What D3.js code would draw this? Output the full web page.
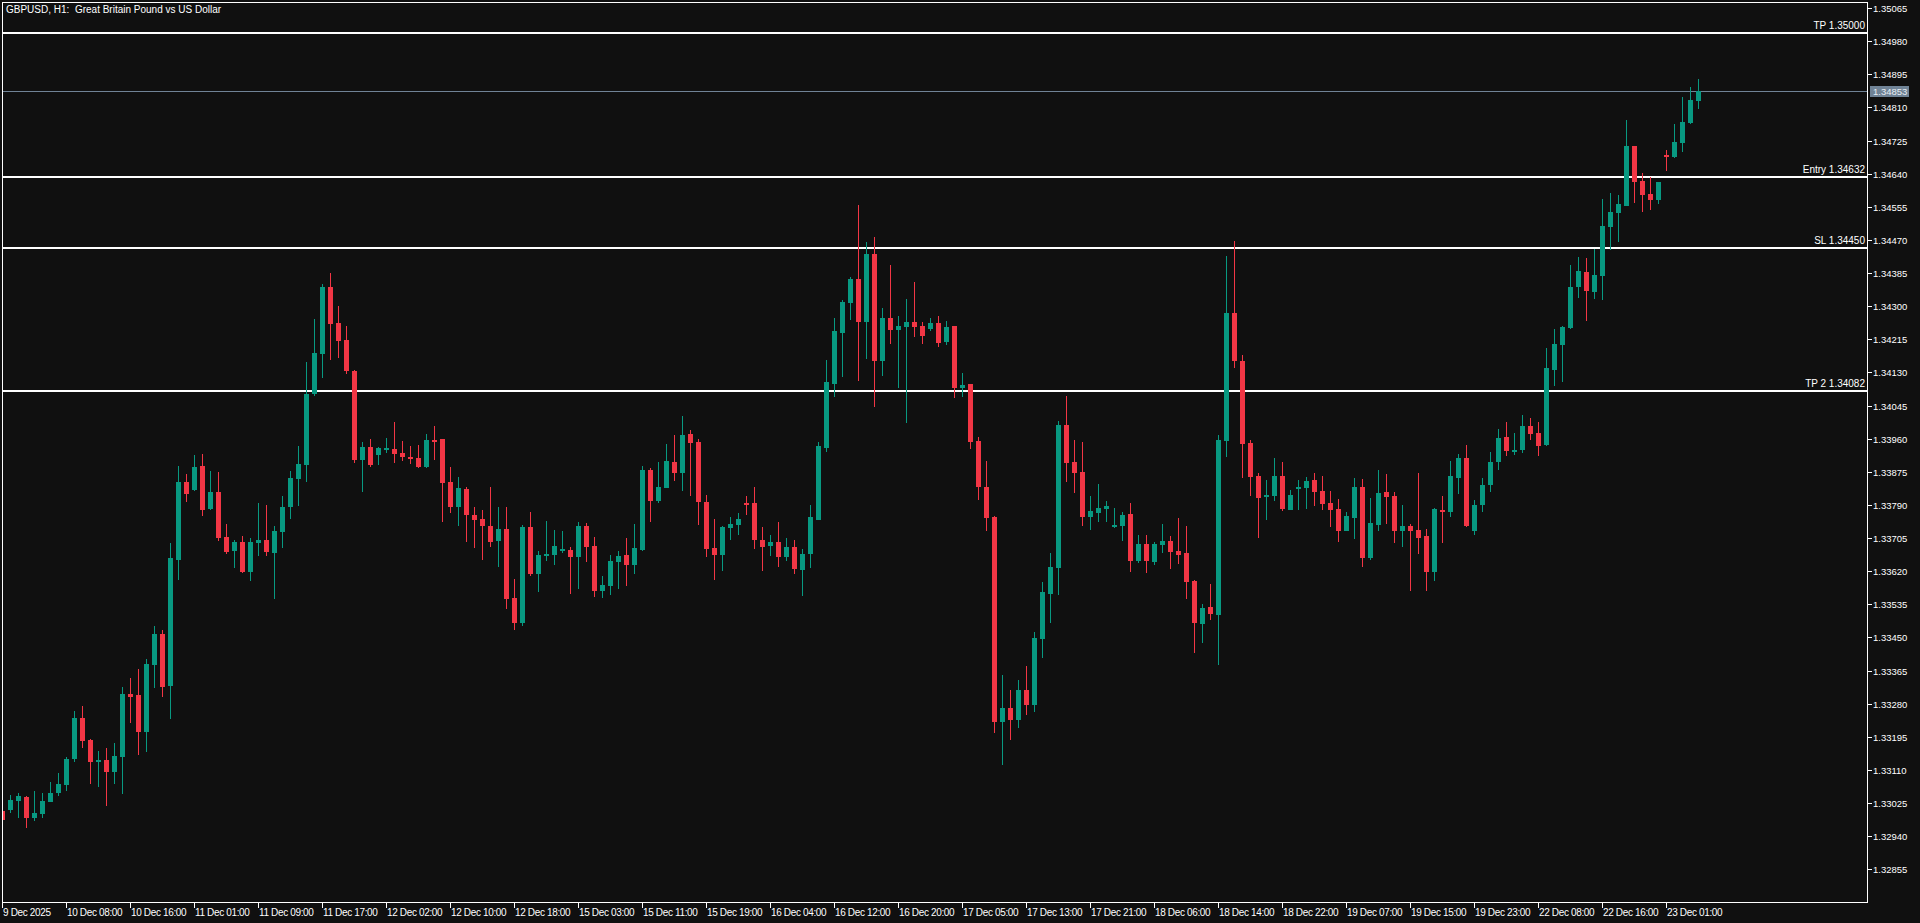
<!DOCTYPE html>
<html><head><meta charset="utf-8">
<script src="https://cdn.jsdelivr.net/npm/d3@7"></script>
<style>
html,body{margin:0;padding:0;background:#101010;overflow:hidden}
svg{display:block}
text{font-family:"Liberation Sans",Arial,sans-serif;fill:#ffffff}
</style></head>
<body>
<svg id="chart" width="1920" height="923"></svg>
<script>
const title = "GBPUSD, H1:  Great Britain Pound vs US Dollar";

const opens = [1.33005,1.33007,1.33030,1.33041,1.32987,1.32997,1.33028,1.33051,1.33071,1.33138,
1.33243,1.33187,1.33130,1.33135,1.33105,1.33143,1.33305,1.33302,1.33207,1.33379,
1.33459,1.33325,1.33649,1.33849,1.33828,1.33890,1.33780,1.33823,1.33708,1.33672,
1.33695,1.33618,1.33692,1.33700,1.33667,1.33720,1.33785,1.33856,1.33892,1.34075,
1.34177,1.34349,1.34257,1.34213,1.34134,1.33905,1.33939,1.33918,1.33933,1.33933,
1.33923,1.33913,1.33910,1.33887,1.33957,1.33959,1.33849,1.33785,1.33831,1.33764,
1.33754,1.33736,1.33697,1.33728,1.33551,1.33487,1.33733,1.33613,1.33659,1.33661,
1.33674,1.33674,1.33656,1.33736,1.33685,1.33569,1.33582,1.33644,1.33661,1.33636,
1.33674,1.33880,1.33800,1.33833,1.33900,1.33872,1.33972,1.33951,1.33797,1.33679,
1.33661,1.33731,1.33738,1.33796,1.33794,1.33701,1.33684,1.33696,1.33656,1.33681,
1.33622,1.33663,1.33752,1.33937,1.34101,1.34232,1.34309,1.34370,1.34260,1.34434,
1.34160,1.34270,1.34239,1.34247,1.34260,1.34250,1.34242,1.34257,1.34209,1.34250,
1.34089,1.34101,1.33954,1.33836,1.33759,1.33233,1.33269,1.33238,1.33315,1.33277,
1.33446,1.33561,1.33628,1.33995,1.33900,1.33874,1.33759,1.33769,1.33780,1.33733,
1.33736,1.33767,1.33646,1.33690,1.33644,1.33687,1.33697,1.33672,1.33667,1.33595,
1.33484,1.33528,1.33508,1.33954,1.34282,1.34159,1.33949,1.33864,1.33810,1.33813,
1.33864,1.33777,1.33831,1.33833,1.33854,1.33826,1.33795,1.33780,1.33723,1.33756,
1.33836,1.33654,1.33738,1.33823,1.33813,1.33723,1.33736,1.33726,1.33710,1.33618,
1.33777,1.33772,1.33859,1.33910,1.33723,1.33790,1.33841,1.33900,1.33964,1.33928,
1.33931,1.33992,1.33975,1.33944,1.34136,1.34200,1.34244,1.34349,1.34388,1.34336,
1.34377,1.34503,1.34539,1.34557,1.34711,1.34621,1.34588,1.34572,1.34688,1.34683,
1.34719,1.34770,1.34826];

const highs = [1.33007,1.33046,1.33050,1.33043,1.33056,1.33051,1.33079,1.33102,1.33143,1.33261,
1.33274,1.33189,1.33159,1.33166,1.33179,1.33323,1.33346,1.33369,1.33395,1.33479,
1.33469,1.33692,1.33890,1.33869,1.33918,1.33921,1.33877,1.33874,1.33741,1.33700,
1.33710,1.33705,1.33795,1.33790,1.33736,1.33813,1.33877,1.33941,1.34157,1.34267,
1.34357,1.34385,1.34300,1.34249,1.34136,1.33951,1.33959,1.33939,1.33962,1.34003,
1.33954,1.33941,1.33944,1.33972,1.33992,1.33959,1.33887,1.33862,1.33836,1.33785,
1.33777,1.33836,1.33785,1.33785,1.33600,1.33738,1.33772,1.33672,1.33749,1.33726,
1.33723,1.33682,1.33746,1.33744,1.33708,1.33608,1.33661,1.33672,1.33705,1.33741,
1.33890,1.33885,1.33900,1.33946,1.33969,1.34018,1.33982,1.33959,1.33815,1.33754,
1.33736,1.33759,1.33769,1.33814,1.33837,1.33734,1.33714,1.33745,1.33704,1.33699,
1.33678,1.33791,1.33952,1.34163,1.34270,1.34316,1.34375,1.34560,1.34465,1.34477,
1.34296,1.34406,1.34275,1.34319,1.34362,1.34260,1.34270,1.34275,1.34262,1.34250,
1.34129,1.34101,1.33963,1.33903,1.33762,1.33354,1.33315,1.33341,1.33377,1.33464,
1.33592,1.33667,1.34005,1.34069,1.33957,1.33951,1.33813,1.33844,1.33800,1.33782,
1.33772,1.33795,1.33713,1.33713,1.33695,1.33741,1.33710,1.33756,1.33736,1.33597,
1.33536,1.33587,1.33969,1.34429,1.34467,1.34175,1.33957,1.33872,1.33854,1.33910,
1.33900,1.33828,1.33854,1.33862,1.33872,1.33864,1.33826,1.33805,1.33772,1.33859,
1.33856,1.33808,1.33880,1.33869,1.33823,1.33790,1.33741,1.33872,1.33728,1.33782,
1.33813,1.33903,1.33921,1.33944,1.33803,1.33859,1.33926,1.33985,1.34003,1.33975,
1.34021,1.34013,1.34003,1.34193,1.34241,1.34249,1.34406,1.34426,1.34424,1.34447,
1.34575,1.34590,1.34585,1.34778,1.34711,1.34642,1.34631,1.34619,1.34701,1.34767,
1.34837,1.34862,1.34883];

const lows = [1.32977,1.33000,1.32987,1.32962,1.32979,1.32987,1.33028,1.33043,1.33056,1.33130,
1.33166,1.33074,1.33066,1.33017,1.33074,1.33048,1.33230,1.33148,1.33156,1.33320,
1.33297,1.33241,1.33597,1.33797,1.33826,1.33762,1.33777,1.33697,1.33664,1.33628,
1.33615,1.33595,1.33659,1.33659,1.33549,1.33679,1.33754,1.33787,1.33849,1.34069,
1.34116,1.34162,1.34167,1.34126,1.33898,1.33823,1.33887,1.33892,1.33923,1.33898,
1.33903,1.33895,1.33885,1.33885,1.33905,1.33746,1.33769,1.33736,1.33695,1.33679,
1.33649,1.33682,1.33631,1.33523,1.33469,1.33479,1.33608,1.33567,1.33646,1.33636,
1.33667,1.33561,1.33574,1.33644,1.33554,1.33551,1.33559,1.33574,1.33582,1.33613,
1.33672,1.33746,1.33795,1.33833,1.33851,1.33826,1.33813,1.33738,1.33656,1.33597,
1.33620,1.33700,1.33713,1.33763,1.33678,1.33620,1.33658,1.33630,1.33645,1.33612,
1.33555,1.33627,1.33751,1.33925,1.34068,1.34119,1.34265,1.34109,1.34165,1.34042,
1.34122,1.34203,1.34090,1.34001,1.34221,1.34203,1.34236,1.34196,1.34201,1.34065,
1.34068,1.33934,1.33803,1.33723,1.33205,1.33123,1.33187,1.33218,1.33251,1.33259,
1.33397,1.33487,1.33559,1.33849,1.33821,1.33736,1.33726,1.33746,1.33746,1.33731,
1.33697,1.33618,1.33641,1.33615,1.33636,1.33667,1.33626,1.33638,1.33549,1.33410,
1.33436,1.33495,1.33379,1.33913,1.34141,1.33859,1.33813,1.33705,1.33751,1.33800,
1.33774,1.33777,1.33777,1.33780,1.33787,1.33777,1.33733,1.33695,1.33723,1.33703,
1.33631,1.33649,1.33723,1.33741,1.33692,1.33682,1.33569,1.33664,1.33569,1.33595,
1.33692,1.33759,1.33818,1.33733,1.33713,1.33772,1.33823,1.33880,1.33915,1.33918,
1.33923,1.33957,1.33915,1.33941,1.34095,1.34105,1.34241,1.34321,1.34262,1.34318,
1.34316,1.34444,1.34465,1.34557,1.34565,1.34542,1.34547,1.34562,1.34647,1.34680,
1.34696,1.34767,1.34806];

const closes = [1.32982,1.33033,1.33043,1.32987,1.32999,1.33030,1.33051,1.33074,1.33138,1.33243,
1.33184,1.33130,1.33135,1.33105,1.33146,1.33305,1.33297,1.33207,1.33382,1.33459,
1.33323,1.33654,1.33849,1.33818,1.33887,1.33777,1.33823,1.33705,1.33669,1.33695,
1.33618,1.33695,1.33700,1.33669,1.33723,1.33785,1.33859,1.33895,1.34075,1.34180,
1.34349,1.34254,1.34211,1.34134,1.33905,1.33939,1.33892,1.33936,1.33936,1.33921,
1.33913,1.33908,1.33887,1.33957,1.33954,1.33846,1.33785,1.33833,1.33764,1.33751,
1.33736,1.33695,1.33728,1.33549,1.33487,1.33733,1.33613,1.33661,1.33664,1.33685,
1.33677,1.33656,1.33736,1.33682,1.33569,1.33584,1.33646,1.33659,1.33636,1.33679,
1.33880,1.33800,1.33836,1.33903,1.33872,1.33969,1.33949,1.33797,1.33677,1.33661,
1.33733,1.33741,1.33754,1.33793,1.33699,1.33681,1.33696,1.33656,1.33681,1.33625,
1.33665,1.33758,1.33940,1.34106,1.34236,1.34311,1.34370,1.34260,1.34434,1.34160,
1.34270,1.34239,1.34250,1.34260,1.34247,1.34224,1.34257,1.34206,1.34247,1.34089,
1.34098,1.33951,1.33835,1.33756,1.33233,1.33269,1.33238,1.33315,1.33277,1.33449,
1.33567,1.33631,1.33995,1.33898,1.33872,1.33759,1.33774,1.33782,1.33787,1.33738,
1.33764,1.33646,1.33690,1.33646,1.33690,1.33697,1.33669,1.33661,1.33592,1.33487,
1.33525,1.33510,1.33957,1.34282,1.34159,1.33946,1.33862,1.33808,1.33815,1.33864,
1.33780,1.33815,1.33836,1.33851,1.33823,1.33792,1.33777,1.33723,1.33762,1.33836,
1.33654,1.33744,1.33821,1.33810,1.33723,1.33736,1.33723,1.33705,1.33618,1.33780,
1.33772,1.33864,1.33910,1.33736,1.33790,1.33841,1.33900,1.33962,1.33928,1.33931,
1.33992,1.33972,1.33941,1.34141,1.34203,1.34247,1.34349,1.34390,1.34339,1.34380,
1.34506,1.34542,1.34562,1.34711,1.34619,1.34585,1.34572,1.34619,1.34683,1.34721,
1.34773,1.34829,1.34853];

const timeLabels = ["9 Dec 2025","10 Dec 08:00","10 Dec 16:00","11 Dec 01:00","11 Dec 09:00","11 Dec 17:00",
"12 Dec 02:00","12 Dec 10:00","12 Dec 18:00","15 Dec 03:00","15 Dec 11:00","15 Dec 19:00","16 Dec 04:00",
"16 Dec 12:00","16 Dec 20:00","17 Dec 05:00","17 Dec 13:00","17 Dec 21:00","18 Dec 06:00","18 Dec 14:00",
"18 Dec 22:00","19 Dec 07:00","19 Dec 15:00","19 Dec 23:00","22 Dec 08:00","22 Dec 16:00","23 Dec 01:00"];
const timeLabelBars = [0,8,16,24,32,40,48,56,64,72,80,88,96,104,112,120,128,136,144,152,160,168,176,184,192,200,208];

const priceTicks = ["1.35065","1.34980","1.34895","1.34810","1.34725","1.34640","1.34555","1.34470","1.34385",
"1.34300","1.34215","1.34130","1.34045","1.33960","1.33875","1.33790","1.33705","1.33620","1.33535","1.33450",
"1.33365","1.33280","1.33195","1.33110","1.33025","1.32940","1.32855"];

const levelNames = ["TP","Entry","SL","TP 2"];
const levelPrices = [1.35000,1.34632,1.34450,1.34082];
const currentPrice = 1.34853;

const priceDomain = [1.327711, 1.350804];
const barDomain = [0, 212];

// ---- layout ----
const W = 1920, H = 923;
const plot = {left: 2, top: 2, right: 1867, bottom: 902};
const UP = "#089981", DOWN = "#f23645";

const svg = d3.select("#chart");
svg.append("rect").attr("width", W).attr("height", H).attr("fill", "#101010");

const y = d3.scaleLinear().domain(priceDomain).range([plot.bottom, plot.top]);
const x = d3.scaleLinear().domain(barDomain).range([2.4, 2.4 + 8 * 212]);

svg.append("defs").append("clipPath").attr("id", "clip")
  .append("rect").attr("x", plot.left + 1).attr("y", plot.top + 1)
  .attr("width", plot.right - plot.left - 1).attr("height", plot.bottom - plot.top - 1);

const g = svg.append("g").attr("clip-path", "url(#clip)").attr("shape-rendering", "crispEdges");

const candles = d3.range(opens.length).map(i => ({
  i, o: opens[i], h: highs[i], l: lows[i], c: closes[i]
}));

// level lines
levelPrices.forEach((p, k) => {
  const yy = Math.round(y(p));
  g.append("rect").attr("x", plot.left).attr("y", yy - 1).attr("width", plot.right - plot.left).attr("height", 2).attr("fill", "#ffffff");
});
// current price line
g.append("rect").attr("x", plot.left).attr("y", Math.round(y(currentPrice))).attr("width", plot.right - plot.left)
  .attr("height", 1).attr("fill", "#708396");

// candles
const cg = g.selectAll("g.candle").data(candles).join("g").attr("class", "candle");
cg.append("rect")
  .attr("x", d => Math.round(x(d.i)))
  .attr("y", d => Math.round(y(d.h)))
  .attr("width", 1)
  .attr("height", d => Math.max(1, Math.round(y(d.l)) - Math.round(y(d.h))))
  .attr("fill", d => d.c >= d.o ? UP : DOWN);
cg.append("rect")
  .attr("x", d => Math.round(x(d.i)) - 2)
  .attr("y", d => Math.round(y(Math.max(d.o, d.c))))
  .attr("width", 5)
  .attr("height", d => Math.max(2, Math.round(y(Math.min(d.o, d.c))) - Math.round(y(Math.max(d.o, d.c)))))
  .attr("fill", d => d.c >= d.o ? UP : DOWN);

// level labels
levelNames.forEach((n, k) => {
  const p = levelPrices[k];
  svg.append("text").attr("x", plot.right - 2).attr("y", Math.round(y(p)) - 4)
    .attr("text-anchor", "end").attr("font-size", "10px")
    .text(n + " " + p.toFixed(5));
});

// frame
svg.append("rect").attr("x", plot.left + 0.5).attr("y", plot.top + 0.5)
  .attr("width", plot.right - plot.left).attr("height", plot.bottom - plot.top)
  .attr("fill", "none").attr("stroke", "#ffffff").attr("stroke-width", 1).attr("shape-rendering", "crispEdges");

// right price axis
const yAxis = svg.append("g").attr("shape-rendering", "crispEdges");
priceTicks.forEach(t => {
  const yy = Math.round(y(+t));
  yAxis.append("rect").attr("x", plot.right + 1).attr("y", yy).attr("width", 4).attr("height", 1).attr("fill", "#ffffff");
  yAxis.append("text").attr("x", plot.right + 6).attr("y", yy + 3.5).attr("font-size", "9.5px").text(t);
});
// current price tag
const cy = Math.round(y(currentPrice));
svg.append("rect").attr("x", 1870).attr("y", cy - 5).attr("width", 39).attr("height", 11).attr("fill", "#708396");
svg.append("text").attr("x", 1873).attr("y", cy + 4).attr("font-size", "9.5px").attr("fill", "#e8eef2")
  .style("fill", "#e8eef2").text(currentPrice.toFixed(5));

// bottom time axis
const xAxis = svg.append("g").attr("shape-rendering", "crispEdges");
timeLabels.forEach((t, k) => {
  const xx = Math.round(x(timeLabelBars[k]));
  xAxis.append("rect").attr("x", xx).attr("y", plot.bottom + 1).attr("width", 1).attr("height", 5).attr("fill", "#ffffff");
  xAxis.append("text").attr("x", xx + 1).attr("y", plot.bottom + 14).attr("font-size", "10px")
    .attr("letter-spacing", "-0.35px").text(t);
});

// title
svg.append("text").attr("x", 6).attr("y", 13).attr("font-size", "10px").attr("xml:space", "preserve")
  .style("white-space", "pre").text(title);
</script>
</body></html>
